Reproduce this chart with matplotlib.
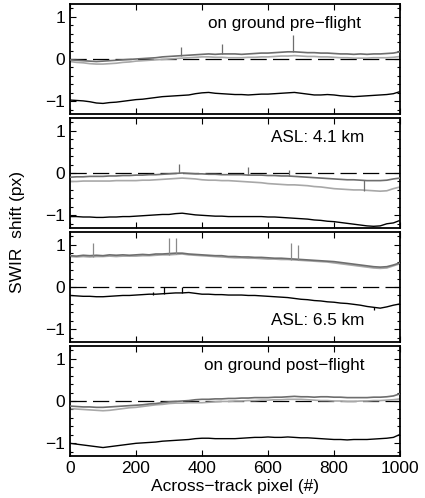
import numpy as np
import matplotlib
matplotlib.use("Agg")
import matplotlib.pyplot as plt
from matplotlib.ticker import MultipleLocator, FixedLocator

plt.rcParams['font.family'] = ['Liberation Sans', 'DejaVu Sans']

# across-track pixel positions of the sampled values
pixel = np.arange(0, 1001, 20)

# ---- panel 1: on ground pre-flight ----
pre_black = [-0.97, -0.98, -0.99, -1.01, -1.04, -1.05, -1.03, -1.02, -1.00, -0.98,
             -0.96, -0.95, -0.93, -0.91, -0.89, -0.88, -0.87, -0.86, -0.85, -0.82,
             -0.80, -0.79, -0.81, -0.82, -0.83, -0.84, -0.84, -0.85, -0.84, -0.83,
             -0.83, -0.82, -0.81, -0.80, -0.79, -0.81, -0.83, -0.85, -0.85, -0.84,
             -0.85, -0.87, -0.88, -0.89, -0.88, -0.87, -0.86, -0.85, -0.84, -0.82, -0.77]
pre_dark = [-0.02, -0.03, -0.04, -0.05, -0.06, -0.05, -0.04, -0.03, -0.02, -0.01,
            0.00, 0.01, 0.02, 0.03, 0.05, 0.06, 0.07, 0.08, 0.09, 0.10,
            0.11, 0.12, 0.11, 0.12, 0.12, 0.12, 0.11, 0.12, 0.13, 0.14,
            0.14, 0.15, 0.16, 0.17, 0.17, 0.16, 0.15, 0.15, 0.14, 0.14,
            0.13, 0.12, 0.12, 0.11, 0.12, 0.11, 0.12, 0.12, 0.13, 0.14, 0.17]
pre_light = [-0.06, -0.08, -0.09, -0.11, -0.12, -0.12, -0.11, -0.10, -0.08, -0.07,
             -0.05, -0.04, -0.03, -0.02, -0.01, 0.00, 0.01, 0.02, 0.03, 0.04,
             0.05, 0.05, 0.04, 0.04, 0.03, 0.03, 0.03, 0.04, 0.04, 0.05,
             0.05, 0.06, 0.07, 0.07, 0.08, 0.07, 0.06, 0.06, 0.05, 0.05,
             0.04, 0.03, 0.03, 0.02, 0.02, 0.02, 0.03, 0.03, 0.03, 0.04, 0.06]

# ---- panel 2: ASL 4.1 km ----
asl41_black = [-1.03, -1.03, -1.04, -1.04, -1.05, -1.05, -1.04, -1.04, -1.03, -1.03,
               -1.02, -1.01, -1.00, -0.99, -0.98, -0.98, -0.96, -0.95, -0.97, -0.99,
               -1.00, -1.01, -1.02, -1.02, -1.03, -1.03, -1.03, -1.03, -1.03, -1.03,
               -1.04, -1.04, -1.05, -1.06, -1.07, -1.08, -1.09, -1.11, -1.12, -1.14,
               -1.15, -1.17, -1.19, -1.21, -1.23, -1.25, -1.26, -1.25, -1.20, -1.18, -1.12]
asl41_dark = [-0.10, -0.09, -0.09, -0.08, -0.08, -0.08, -0.07, -0.07, -0.06, -0.06,
              -0.05, -0.05, -0.04, -0.04, -0.03, -0.02, -0.01, 0.00, -0.01, -0.02,
              -0.02, -0.03, -0.03, -0.04, -0.04, -0.04, -0.04, -0.05, -0.05, -0.05,
              -0.06, -0.06, -0.07, -0.07, -0.08, -0.09, -0.10, -0.11, -0.12, -0.13,
              -0.14, -0.15, -0.16, -0.16, -0.17, -0.18, -0.18, -0.18, -0.17, -0.14, -0.12]
asl41_light = [-0.20, -0.20, -0.19, -0.19, -0.19, -0.19, -0.19, -0.18, -0.18, -0.18,
               -0.18, -0.17, -0.17, -0.16, -0.15, -0.14, -0.13, -0.12, -0.13, -0.14,
               -0.16, -0.17, -0.17, -0.18, -0.18, -0.19, -0.20, -0.21, -0.22, -0.23,
               -0.25, -0.26, -0.27, -0.28, -0.28, -0.29, -0.30, -0.32, -0.33, -0.35,
               -0.37, -0.38, -0.39, -0.40, -0.40, -0.41, -0.42, -0.43, -0.42, -0.37, -0.33]

# ---- panel 3: ASL 6.5 km ----
asl65_black = [-0.20, -0.21, -0.22, -0.22, -0.23, -0.23, -0.22, -0.21, -0.20, -0.20,
               -0.19, -0.18, -0.17, -0.17, -0.16, -0.15, -0.14, -0.14, -0.13, -0.15,
               -0.17, -0.17, -0.18, -0.18, -0.19, -0.19, -0.19, -0.20, -0.20, -0.21,
               -0.22, -0.23, -0.24, -0.25, -0.27, -0.29, -0.30, -0.32, -0.33, -0.35,
               -0.36, -0.38, -0.39, -0.41, -0.43, -0.46, -0.48, -0.50, -0.47, -0.43, -0.40]
asl65_dark = [0.74, 0.73, 0.75, 0.74, 0.75, 0.74, 0.76, 0.75, 0.76, 0.75,
              0.76, 0.77, 0.76, 0.78, 0.78, 0.79, 0.80, 0.80, 0.78, 0.77,
              0.76, 0.75, 0.74, 0.74, 0.72, 0.72, 0.71, 0.71, 0.70, 0.70,
              0.69, 0.68, 0.68, 0.67, 0.66, 0.65, 0.64, 0.63, 0.62, 0.61,
              0.60, 0.58, 0.56, 0.54, 0.52, 0.50, 0.48, 0.47, 0.48, 0.52, 0.57]
asl65_light = [0.72, 0.71, 0.72, 0.71, 0.72, 0.72, 0.73, 0.72, 0.73, 0.73,
               0.73, 0.74, 0.74, 0.75, 0.76, 0.76, 0.77, 0.78, 0.76, 0.75,
               0.74, 0.73, 0.72, 0.71, 0.70, 0.69, 0.69, 0.68, 0.68, 0.67,
               0.66, 0.66, 0.65, 0.65, 0.64, 0.63, 0.62, 0.61, 0.60, 0.59,
               0.57, 0.55, 0.53, 0.51, 0.49, 0.47, 0.45, 0.44, 0.45, 0.50, 0.55]

# ---- panel 4: on ground post-flight ----
post_black = [-1.00, -1.02, -1.04, -1.06, -1.08, -1.10, -1.08, -1.06, -1.04, -1.02,
              -1.00, -0.99, -0.98, -0.97, -0.95, -0.94, -0.93, -0.92, -0.91, -0.89,
              -0.88, -0.88, -0.89, -0.89, -0.89, -0.89, -0.88, -0.87, -0.86, -0.86,
              -0.85, -0.86, -0.86, -0.85, -0.86, -0.87, -0.87, -0.88, -0.89, -0.90,
              -0.91, -0.91, -0.92, -0.91, -0.91, -0.91, -0.90, -0.89, -0.88, -0.86, -0.79]
post_dark = [-0.12, -0.13, -0.14, -0.14, -0.15, -0.15, -0.14, -0.13, -0.12, -0.11,
             -0.10, -0.09, -0.07, -0.06, -0.04, -0.02, -0.01, 0.00, 0.01, 0.03,
             0.04, 0.04, 0.05, 0.05, 0.06, 0.06, 0.07, 0.07, 0.08, 0.08,
             0.08, 0.09, 0.09, 0.10, 0.11, 0.10, 0.10, 0.09, 0.10, 0.10,
             0.09, 0.09, 0.08, 0.08, 0.08, 0.08, 0.09, 0.09, 0.10, 0.12, 0.17]
post_light = [-0.18, -0.19, -0.20, -0.21, -0.22, -0.23, -0.22, -0.20, -0.18, -0.16,
              -0.15, -0.13, -0.11, -0.09, -0.08, -0.06, -0.05, -0.05, -0.04, -0.04,
              -0.04, -0.03, -0.02, -0.01, -0.01, 0.00, 0.00, 0.01, 0.01, 0.02,
              0.02, 0.03, 0.03, 0.04, 0.04, 0.04, 0.03, 0.02, 0.01, 0.01,
              0.00, 0.00, -0.01, -0.01, 0.00, 0.00, 0.01, 0.01, 0.02, 0.03, 0.05]

# spikes: (pixel, from, to)
pre_spike_x = [335, 462, 675]
pre_spike_lo = [0.06, 0.12, 0.16]
pre_spike_hi = [0.28, 0.36, 0.57]
asl41_spike_x = [330, 540, 665, 892]
asl41_spike_lo = [0.00, -0.04, -0.08, -0.42]
asl41_spike_hi = [0.21, 0.13, 0.08, -0.17]
asl65_spike_x = [70, 300, 320, 670, 690]
asl65_spike_lo = [0.72, 0.76, 0.77, 0.65, 0.63]
asl65_spike_hi = [1.05, 1.15, 1.15, 1.05, 1.00]
asl65_bspike_x = [250, 285, 340, 920]
asl65_bspike_lo = [-0.18, -0.16, -0.14, -0.55]
asl65_bspike_hi = [-0.12, 0.00, 0.00, -0.48]

labels = ["on ground pre\u2212flight", "ASL: 4.1 km", "ASL: 6.5 km",
          "on ground post\u2212flight"]
label_x = [650, 750, 750, 648]
label_y = [0.85, 0.85, -0.78, 0.85]

panels = [
    (pre_black, pre_dark, pre_light, (pre_spike_x, pre_spike_lo, pre_spike_hi), None),
    (asl41_black, asl41_dark, asl41_light, (asl41_spike_x, asl41_spike_lo, asl41_spike_hi), None),
    (asl65_black, asl65_dark, asl65_light, (asl65_spike_x, asl65_spike_lo, asl65_spike_hi),
     (asl65_bspike_x, asl65_bspike_lo, asl65_bspike_hi)),
    (post_black, post_dark, post_light, None, None),
]

W, H = 425, 498
fig = plt.figure(figsize=(W / 100, H / 100), dpi=100)
left, right = 70, 400
tops = [4, 118, 232, 346]
ph = 110
dark_c = '#6e6e6e'
light_c = '#a8a8a8'
axes = []
for i, (blk, drk, lgt, sp, bsp) in enumerate(panels):
    ax = fig.add_axes([left / W, 1 - (tops[i] + ph) / H, (right - left) / W, ph / H])
    axes.append(ax)
    ax.axhline(0, color='black', lw=0.9, ls=(0, (13, 5)), zorder=1)
    ax.plot(pixel, lgt, color=light_c, lw=1.2, zorder=2)
    ax.plot(pixel, drk, color=dark_c, lw=1.2, zorder=3)
    if sp is not None:
        ax.vlines(sp[0], sp[1], sp[2], color=dark_c if i != 2 else '#8a8a8a', lw=0.9, zorder=3)
    ax.plot(pixel, blk, color='black', lw=1.0, zorder=4)
    if bsp is not None:
        ax.vlines(bsp[0], bsp[1], bsp[2], color='black', lw=0.9, zorder=4)
    ax.text(label_x[i], label_y[i], labels[i], ha='center', va='center', fontsize=12.3)
    ax.set_xlim(0, 1000)
    ax.set_ylim(-1.3, 1.3)
    ax.xaxis.set_major_locator(FixedLocator([0, 200, 400, 600, 800, 1000]))
    ax.yaxis.set_major_locator(FixedLocator([-1, 0, 1]))
    ax.yaxis.set_minor_locator(MultipleLocator(0.2))
    ax.tick_params(which='both', direction='in', top=True, right=True, labelsize=12.5)
    ax.tick_params(which='major', length=4, width=0.8)
    ax.tick_params(which='minor', length=2.5, width=0.8)
    ax.set_yticklabels(['\u22121', '0', '1'])
    for s in ax.spines.values():
        s.set_linewidth(1.3)
    if i < 3:
        ax.tick_params(labelbottom=False)

axes[-1].set_xlabel("Across\u2212track pixel (#)", fontsize=12.5, labelpad=2)
fig.text(18 / W, 1 - 232 / H, "SWIR  shift (px)", rotation=90, ha='center', va='center',
         fontsize=12.5)

fig.savefig("out.png", dpi=100)
